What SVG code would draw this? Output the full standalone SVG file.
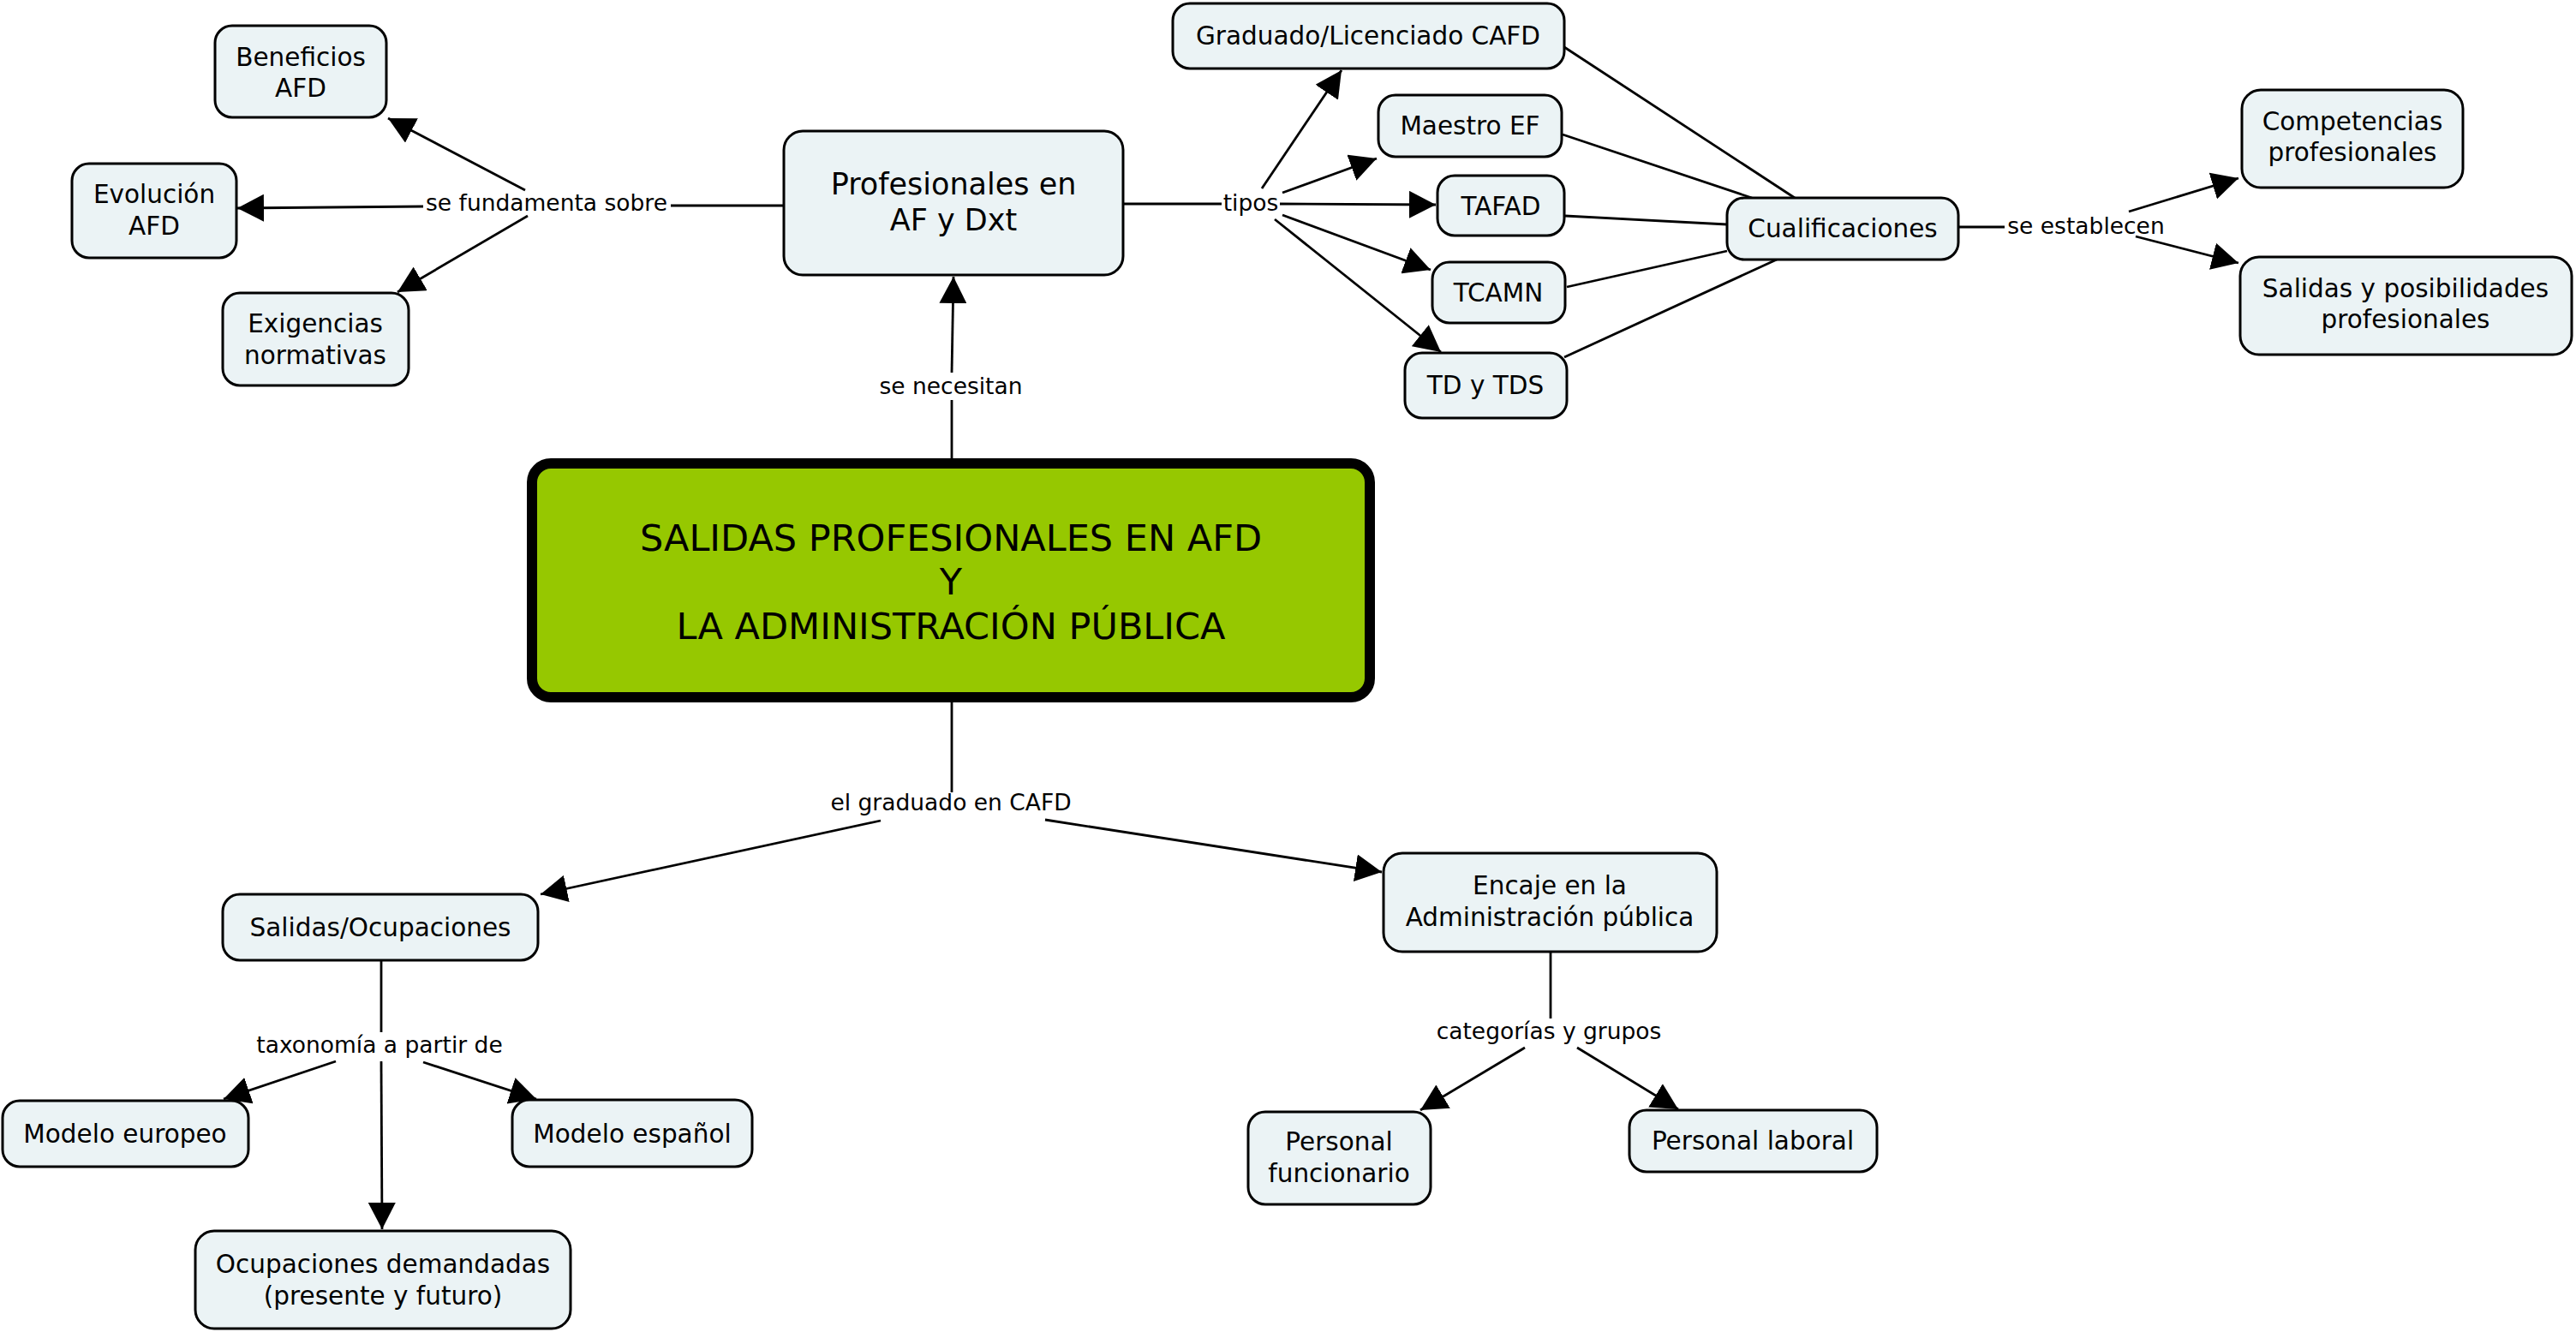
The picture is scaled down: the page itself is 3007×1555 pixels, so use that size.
<svg xmlns="http://www.w3.org/2000/svg" width="3007" height="1555" viewBox="0 0 3007 1555">
<defs>
<style>
.n rect{fill:#ebf3f5;stroke:#000;stroke-width:3}
.n text,.lbl text,.t{font-family:"DejaVu Sans","Liberation Sans",sans-serif;fill:#000;text-anchor:middle}
.n text{font-size:29.5px}
.lbl text{font-size:26.5px}
.t{font-size:43px}
.c line{stroke:#000;stroke-width:2.8;fill:none}
.c line.a{marker-end:url(#ah)}
</style>
<marker id="ah" markerUnits="userSpaceOnUse" markerWidth="32" markerHeight="32" refX="31" refY="16" orient="auto" viewBox="0 0 32 32">
<path d="M0,0 L31,16 L0,32 z" fill="#000"/>
</marker>
</defs>
<rect width="3007" height="1555" fill="#fff"/>
<g id="connectors" class="c">
<line x1="1111" y1="535" x2="1111" y2="467"/>
<line class="a" x1="1111" y1="435" x2="1113" y2="323"/>
<line x1="915" y1="240" x2="783" y2="240"/>
<line class="a" x1="494" y1="241" x2="277" y2="243"/>
<line class="a" x1="613" y1="222" x2="453" y2="138"/>
<line class="a" x1="616" y1="252" x2="464" y2="341"/>
<line x1="1311" y1="238" x2="1426" y2="238"/>
<line class="a" x1="1473" y1="220" x2="1566" y2="82"/>
<line class="a" x1="1497" y1="225" x2="1607" y2="185"/>
<line class="a" x1="1494" y1="238" x2="1676" y2="239"/>
<line class="a" x1="1497" y1="251" x2="1670" y2="315"/>
<line class="a" x1="1488" y1="256" x2="1682" y2="411"/>
<line x1="1826" y1="55" x2="2095" y2="231"/>
<line x1="1824" y1="157" x2="2045" y2="231"/>
<line x1="1827" y1="252" x2="2016" y2="262"/>
<line x1="1829" y1="335" x2="2016" y2="293"/>
<line x1="1826" y1="417" x2="2074" y2="303"/>
<line x1="2286" y1="265" x2="2340" y2="265"/>
<line class="a" x1="2485" y1="247" x2="2613" y2="208"/>
<line class="a" x1="2493" y1="276" x2="2613" y2="307"/>
<line x1="1111" y1="820" x2="1111" y2="925"/>
<line class="a" x1="1028" y1="958" x2="631" y2="1044"/>
<line class="a" x1="1220" y1="957" x2="1613" y2="1018"/>
<line x1="445" y1="1121" x2="445" y2="1205"/>
<line class="a" x1="392" y1="1239" x2="261" y2="1283"/>
<line class="a" x1="494" y1="1240" x2="626" y2="1283"/>
<line class="a" x1="445" y1="1239" x2="446" y2="1435"/>
<line x1="1810" y1="1111" x2="1810" y2="1189"/>
<line class="a" x1="1780" y1="1223" x2="1658" y2="1296"/>
<line class="a" x1="1841" y1="1223" x2="1959" y2="1295"/>
</g>
<g id="labels" class="lbl">
<text x="1110" y="460">se necesitan</text>
<text x="638" y="246">se fundamenta sobre</text>
<text x="1460" y="246">tipos</text>
<text x="2435" y="273">se establecen</text>
<text x="1110" y="946">el graduado en CAFD</text>
<text x="443" y="1229">taxonomía a partir de</text>
<text x="1808" y="1213">categorías y grupos</text>
</g>
<g id="main">
<rect x="621" y="541" width="978" height="273" rx="22" fill="#96c800" stroke="#000" stroke-width="12"/>
<text class="t" x="1110" y="643">SALIDAS PROFESIONALES EN AFD</text>
<text class="t" x="1110" y="694">Y</text>
<text class="t" x="1110" y="746">LA ADMINISTRACIÓN PÚBLICA</text>
</g>
<g id="profesionales" class="n">
<rect x="915" y="153" width="396" height="168" rx="22"/>
<text x="1113" y="227" style="font-size:35px">Profesionales en</text>
<text x="1113" y="269" style="font-size:35px">AF y Dxt</text>
</g>
<g id="beneficios" class="n">
<rect x="251" y="30" width="200" height="107" rx="20"/>
<text x="351" y="77">Beneficios</text>
<text x="351" y="113">AFD</text>
</g>
<g id="evolucion" class="n">
<rect x="84" y="191" width="192" height="110" rx="20"/>
<text x="180" y="237">Evolución</text>
<text x="180" y="274">AFD</text>
</g>
<g id="exigencias" class="n">
<rect x="260" y="342" width="217" height="108" rx="20"/>
<text x="368" y="388">Exigencias</text>
<text x="368" y="425">normativas</text>
</g>
<g id="graduado" class="n">
<rect x="1369" y="4" width="457" height="76" rx="20"/>
<text x="1597" y="52">Graduado/Licenciado CAFD</text>
</g>
<g id="maestro" class="n">
<rect x="1609" y="111" width="214" height="72" rx="20"/>
<text x="1716" y="157">Maestro EF</text>
</g>
<g id="tafad" class="n">
<rect x="1678" y="205" width="148" height="70" rx="20"/>
<text x="1752" y="251">TAFAD</text>
</g>
<g id="tcamn" class="n">
<rect x="1672" y="306" width="155" height="71" rx="20"/>
<text x="1749" y="352">TCAMN</text>
</g>
<g id="tdtds" class="n">
<rect x="1640" y="412" width="189" height="76" rx="20"/>
<text x="1734" y="460">TD y TDS</text>
</g>
<g id="cualificaciones" class="n">
<rect x="2016" y="231" width="270" height="72" rx="20"/>
<text x="2151" y="277">Cualificaciones</text>
</g>
<g id="competencias" class="n">
<rect x="2617" y="105" width="258" height="114" rx="22"/>
<text x="2746" y="152">Competencias</text>
<text x="2746" y="188">profesionales</text>
</g>
<g id="salidasposibilidades" class="n">
<rect x="2615" y="300" width="387" height="114" rx="22"/>
<text x="2808" y="347">Salidas y posibilidades</text>
<text x="2808" y="383">profesionales</text>
</g>
<g id="salidasocupaciones" class="n">
<rect x="260" y="1044" width="368" height="77" rx="20"/>
<text x="444" y="1093">Salidas/Ocupaciones</text>
</g>
<g id="modeloeuropeo" class="n">
<rect x="3" y="1285" width="287" height="77" rx="20"/>
<text x="146" y="1334">Modelo europeo</text>
</g>
<g id="modeloespanol" class="n">
<rect x="598" y="1284" width="280" height="78" rx="20"/>
<text x="738" y="1334">Modelo español</text>
</g>
<g id="ocupaciones" class="n">
<rect x="228" y="1437" width="438" height="114" rx="22"/>
<text x="447" y="1486">Ocupaciones demandadas</text>
<text x="447" y="1523">(presente y futuro)</text>
</g>
<g id="encaje" class="n">
<rect x="1615" y="996" width="389" height="115" rx="22"/>
<text x="1809" y="1044">Encaje en la</text>
<text x="1809" y="1081">Administración pública</text>
</g>
<g id="funcionario" class="n">
<rect x="1457" y="1298" width="213" height="108" rx="20"/>
<text x="1563" y="1343">Personal</text>
<text x="1563" y="1380">funcionario</text>
</g>
<g id="laboral" class="n">
<rect x="1902" y="1296" width="289" height="72" rx="20"/>
<text x="2046" y="1342">Personal laboral</text>
</g>
</svg>
